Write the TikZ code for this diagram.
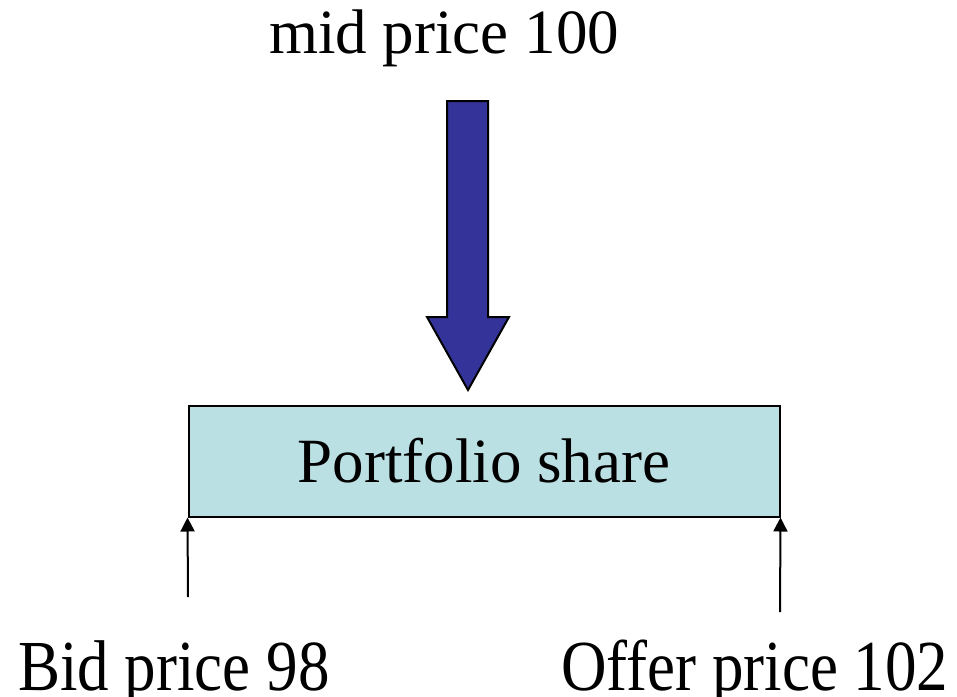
\documentclass[tikz,border=0pt]{standalone}
\usepackage{fontspec}
\setmainfont{Liberation Serif}
\usetikzlibrary{arrows.meta}
\definecolor{shareblue}{HTML}{BBE0E3}
\definecolor{midblue}{HTML}{333399}
\begin{document}
\begin{tikzpicture}[x=1pt,y=-1pt,
  label/.style={inner sep=0pt,font=\fontsize{63}{70}\selectfont},
  sharebox/.style={draw=black,line width=2pt,fill=shareblue,minimum width=591pt,minimum height=111pt,inner sep=0pt,font=\fontsize{63}{70}\selectfont},
  pricearrow/.style={line width=2pt,-{Triangle[width=14pt,length=14pt]}},
  bigarrow/.style={draw=black,line width=2pt,fill=midblue,line join=miter}]
\useasboundingbox (0,0) rectangle (957,696);

% labels (the bottom ones are set slightly taller)
\node[label,anchor=base west] (mid) at (269,53) {mid price 100};
\node[label,anchor=base west] (bid) at (18,690) {\scalebox{1}[1.14]{Bid price 98}};
\node[label,anchor=base west] (offer) at (561,690) {\scalebox{1}[1.14]{Offer price 102}};

% the portfolio share box
\node[sharebox] (box) at (484,461) {Portfolio share};

% block arrow from the mid price down to the box
\draw[bigarrow] (447,101) -- (488,101) -- (488,317) -- (509,317) -- (468,390)
  -- (427,317) -- (447,317) -- cycle;

% bid and offer arrows up to the box corners
\coordinate (bidfoot) at (188,597);
\coordinate (offerfoot) at (780,612);
\draw[pricearrow] (bidfoot) -- (box.south west);
\draw[pricearrow] (offerfoot) -- (box.south east);
\end{tikzpicture}
\end{document}
